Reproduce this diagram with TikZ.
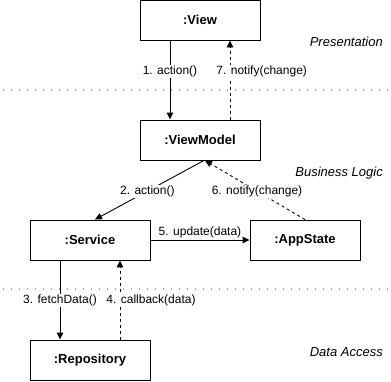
\documentclass[tikz,border=0pt]{standalone}
\usepackage{fontspec}
\setmainfont{Liberation Sans}
\usetikzlibrary{arrows.meta,calc}
\begin{document}
\begin{tikzpicture}[x=1pt,y=-1pt,
  obj/.style={draw,line width=0.9pt,minimum width=120pt,minimum height=40pt,
    inner sep=0pt,font=\fontsize{13}{15}\selectfont\bfseries},
  lbl/.style={fill=white,inner sep=1pt,font=\fontsize{12}{14}\selectfont},
  layer/.style={anchor=east,inner sep=0pt,font=\fontsize{13}{15}\selectfont\itshape},
  call/.style={draw,line width=0.9pt,-{Triangle[length=7pt,width=6.5pt]}},
  ret/.style={call,dash pattern=on 3pt off 3pt},
  sep/.style={draw=black!35,line width=1.3pt,dash pattern=on 1.3pt off 6.7pt}
]
\useasboundingbox (0,0) rectangle (391,381);

% layer separators
\coordinate (sepA-l) at (3,90);  \coordinate (sepA-r) at (391,90);
\coordinate (sepB-l) at (3,289); \coordinate (sepB-r) at (391,289);
\draw[sep] (sepA-l) -- (sepA-r);
\draw[sep] (sepB-l) -- (sepB-r);

% layer names
\node[layer] (lay-pres) at (383,42)  {Presentation};
\node[layer] (lay-bl)   at (383,173) {Business Logic};
\node[layer] (lay-da)   at (383,352) {Data Access};

% objects
\node[obj] (view) at (200,20)  {:View};
\node[obj] (vm)   at (200,140) {:ViewModel};
\node[obj] (svc)  at (90,240)  {:Service};
\node[obj,minimum width=110pt] (app) at (305,240) {:AppState};
\node[obj] (repo) at (90,360)  {:Repository};

% messages
\draw[call] ($(view.south)+(-30,0)$) -- ($(vm.north)+(-30,0)$)
  node[lbl,pos=0.39] (m1) {1. action()};
\draw[ret] ($(vm.north)+(30,0)$) -- ($(view.south)+(30,0)$)
  node[lbl,pos=0.61,anchor=west,xshift=-15pt] (m7) {7. notify(change)};
\draw[call] ($(vm.south)+(4,0)$) -- ($(svc.north)+(5,0)$)
  node[lbl,pos=0.52] (m2) {2. action()};
\draw[ret] (app.north) -- ($(vm.south)+(5,0)$)
  node[lbl,pos=0.48] (m6) {6. notify(change)};
\draw[call] (svc.east) -- (app.west)
  node[lbl,midway,above=1pt] (m5) {5. update(data)};
\draw[call] ($(svc.south)+(-30,0)$) -- ($(repo.north)+(-30,0)$)
  node[lbl,pos=0.51] (m3) {3. fetchData()};
\draw[ret] ($(repo.north)+(30,0)$) -- ($(svc.south)+(30,0)$)
  node[lbl,pos=0.49,anchor=west,xshift=-15pt] (m4) {4. callback(data)};
\end{tikzpicture}
\end{document}
